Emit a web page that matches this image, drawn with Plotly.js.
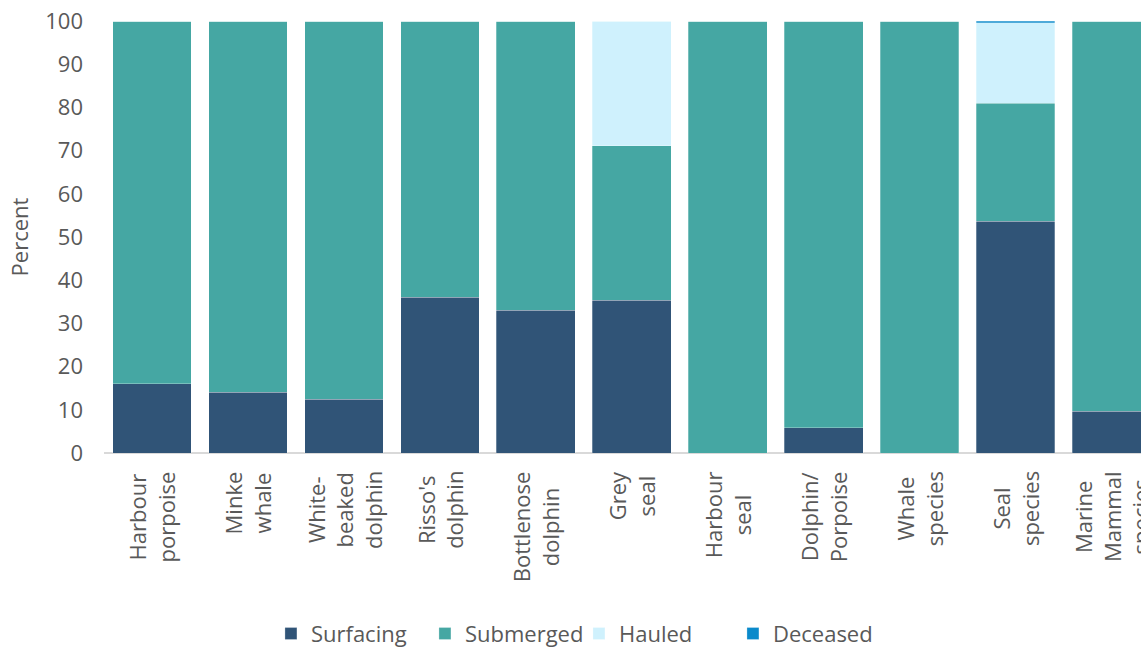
<!DOCTYPE html>
<html>
<head>
<meta charset="utf-8">
<script src="https://cdn.plot.ly/plotly-3.0.1.min.js"></script>
<style>
html,body{margin:0;padding:0;background:#fff;overflow:hidden;}
#chart{width:1141px;height:648px;}
</style>
</head>
<body>
<div id="chart"></div>
<script>
const categories = ["Harbour<br>porpoise","Minke<br>whale","White-<br>beaked<br>dolphin","Risso's<br>dolphin","Bottlenose<br>dolphin","Grey<br>seal","Harbour<br>seal","Dolphin/<br>Porpoise","Whale<br>species","Seal<br>species","Marine<br>Mammal<br>species"];
const surfacing = [16.0, 14.1, 12.5, 36.1, 33.1, 35.4, 0, 5.8, 0, 53.7, 9.7];
const submerged = [84.0, 85.9, 87.5, 63.9, 66.9, 35.7, 100, 94.2, 100, 27.3, 90.3];
const hauled    = [0, 0, 0, 0, 0, 28.9, 0, 0, 0, 18.6, 0];
const deceased  = [0, 0, 0, 0, 0, 0, 0, 0, 0, 0.4, 0];
const seriesNames = ["Surfacing","Submerged","Hauled","Deceased"];
const yTicks = [0,10,20,30,40,50,60,70,80,90,100];

const colors = ["#305477","#45A7A3","#CFF1FD","#0A8ACB"];
const values = [surfacing, submerged, hauled, deceased];
const idx = categories.map((c,i)=>i);

const font = "'Open Sans', Roboto, sans-serif";
const grey = "#595959";
const fs = 22;

const traces = values.map((v,k)=>({
  type:"bar",
  name: seriesNames[k],
  x: idx,
  y: v,
  marker:{color:colors[k], line:{color:"rgba(255,255,255,0.35)", width:0.8}},
  hoverinfo:"name+y"
}));

const annotations = categories.map((c,i)=>({
  x:i, y:0, xref:"x", yref:"y",
  text:c, showarrow:false, textangle:-90,
  xanchor:"center", yanchor:"top", yshift:-16, align:"center",
  font:{family:font, size:fs, color:grey}
}));

const layout = {
  width:1141, height:648,
  margin:{l:103.5, r:0, t:21, b:195},
  barmode:"stack",
  bargap:0.18,
  paper_bgcolor:"#fff", plot_bgcolor:"#fff",
  font:{family:font, size:fs, color:grey},
  xaxis:{
    range:[-0.5, 10.307],
    showticklabels:false, ticks:"", showgrid:false, zeroline:false,
    showline:false, fixedrange:true
  },
  yaxis:{
    range:[0,100], tickvals:yTicks, ticktext:yTicks.map(String),
    showgrid:false, zeroline:true, zerolinecolor:"#D9D9D9", zerolinewidth:2,
    showline:false, ticks:"", ticklabelstandoff:20,
    tickfont:{family:font, size:fs, color:grey},
    title:{text:"Percent", font:{family:font, size:fs, color:grey}, standoff:10}
  },
  showlegend:true,
  legend:{orientation:"h", xref:"paper", x:0.458, xanchor:"center",
    yref:"container", y:0.022, yanchor:"middle",
    font:{family:font, size:fs, color:grey}, traceorder:"normal",
    itemwidth:30, entrywidth:109},
  annotations: annotations
};

Plotly.newPlot("chart", traces, layout, {displayModeBar:false, staticPlot:true});
</script>
</body>
</html>
